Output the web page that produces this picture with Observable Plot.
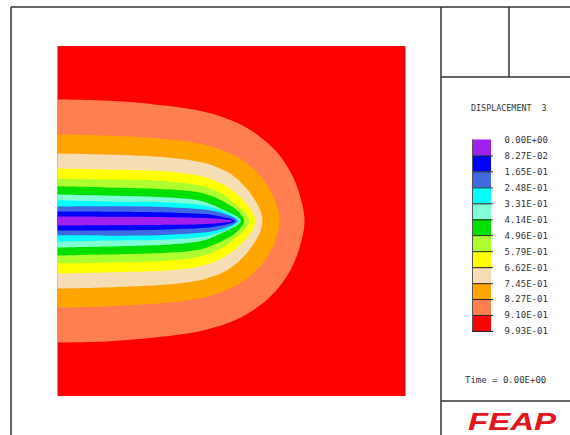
<!DOCTYPE html>
<html><head><meta charset="utf-8">
<script src="https://cdn.jsdelivr.net/npm/d3@7"></script>
<script src="https://cdn.jsdelivr.net/npm/@observablehq/plot@0.6"></script>
<style>
html,body{margin:0;padding:0;background:#fff;}
#wrap{position:relative;width:570px;height:435px;overflow:hidden;background:#fff;}
#wrap svg{position:absolute;left:0;top:0;}
</style></head><body><div id="wrap"></div>
<script>
// ---- data ----
const xDomain = [0, 1];          // mesh extent, horizontal
const yDomain = [-0.5, 0.5];     // mesh extent, vertical

const levelValues = [0.0, 0.0827, 0.165, 0.248, 0.331, 0.414, 0.496, 0.579, 0.662, 0.745, 0.827, 0.910, 0.993];
const levelLabels = ["0.00E+00","8.27E-02","1.65E-01","2.48E-01","3.31E-01","4.14E-01","4.96E-01","5.79E-01","6.62E-01","7.45E-01","8.27E-01","9.10E-01","9.93E-01"];
const bandColors = ["#a020f0","#0000ff","#4169e1","#00ffff","#7fffd4","#00e000","#adff2f","#ffff00","#f5deb3","#ffa500","#ff7f50","#ff0000"];

// upper half of each contour line: [x, distance from mid-line], left edge -> tip
const c0910 = [[0,0.347],[0.136,0.344],[0.280,0.333],[0.418,0.313],[0.516,0.281],[0.582,0.241],[0.628,0.199],[0.662,0.153],[0.685,0.107],[0.700,0.061],[0.707,0.030],[0.710,0]];
const c0827 = [[0,0.247],[0.136,0.244],[0.323,0.233],[0.418,0.219],[0.481,0.199],[0.533,0.173],[0.573,0.139],[0.605,0.099],[0.625,0.059],[0.635,0.027],[0.638,0]];
const c0745 = [[0,0.193],[0.136,0.190],[0.323,0.181],[0.418,0.167],[0.453,0.156],[0.490,0.139],[0.524,0.113],[0.553,0.081],[0.573,0.050],[0.585,0.024],[0.589,0]];
const c0662 = [[0,0.150],[0.136,0.147],[0.323,0.141],[0.418,0.127],[0.476,0.104],[0.513,0.079],[0.542,0.050],[0.559,0.027],[0.569,0]];
const c0579 = [[0,0.121],[0.136,0.119],[0.323,0.113],[0.418,0.099],[0.476,0.076],[0.513,0.047],[0.539,0.024],[0.552,0]];
const c0496 = [[0,0.099],[0.136,0.096],[0.323,0.090],[0.418,0.079],[0.487,0.050],[0.519,0.027],[0.536,0]];
const c0414 = [[0,0.076],[0.136,0.073],[0.323,0.067],[0.418,0.056],[0.487,0.027],[0.517,0.012],[0.527,0]];
const c0331 = [[0,0.059],[0.136,0.056],[0.323,0.053],[0.438,0.041],[0.496,0.019],[0.522,0]];
const c0248 = [[0,0.041],[0.323,0.039],[0.467,0.024],[0.516,0]];
const c0165 = [[0,0.027],[0.323,0.024],[0.453,0.016],[0.510,0]];
const c0083 = [[0,0.013],[0.323,0.011],[0.453,0.007],[0.504,0]];

// contours from outer to inner; each is filled with the band just below its level
const contours = [c0910, c0827, c0745, c0662, c0579, c0496, c0414, c0331, c0248, c0165, c0083];

// mirror the upper half to get the closed outline ordered by y
function outline(c) {
  const lower = c.map(([x, h]) => ({x, y: -h}));
  const upper = c.slice(0, -1).reverse().map(([x, h]) => ({x, y: h}));
  return lower.concat(upper);
}

const wrap = document.getElementById("wrap");

const main = Plot.plot({
  width: 570, height: 435,
  marginLeft: 57.5, marginRight: 164.5, marginTop: 46, marginBottom: 39,
  x: {domain: xDomain, axis: null},
  y: {domain: yDomain, axis: null},
  style: {background: "transparent"},
  marks: [
    Plot.rect([xDomain], {x1: d => d[0], x2: d => d[1], y1: yDomain[0], y2: yDomain[1], fill: bandColors[11]}),
    ...contours.map((c, i) => Plot.areaX(outline(c), {
      x1: 0, x2: "x", y: "y", fill: bandColors[10 - i], curve: "catmull-rom"
    }))
  ]
});
wrap.appendChild(main);

const legend = Plot.plot({
  width: 570, height: 435, margin: 0,
  x: {domain: [0, 1], range: [472, 491], axis: null},
  y: {domain: [levelValues[0], levelValues[12]], range: [139.5, 331], axis: null},
  color: {type: "identity"},
  style: {background: "transparent"},
  marks: [
    Plot.rect(d3.range(12), {x1: 0, x2: 1, y1: i => levelValues[i], y2: i => levelValues[i + 1], fill: i => bandColors[i]}),
    Plot.ruleY(levelValues.slice(1), {x1: 0, x2: 1.1, stroke: "#222", strokeWidth: 1}),
    Plot.ruleX([0], {y1: levelValues[0], y2: levelValues[12], stroke: "#555", strokeWidth: 1}),
    Plot.text(levelValues, {x: 1, y: d => d, text: (d, i) => levelLabels[i], dx: 13, textAnchor: "start",
      fontFamily: "DejaVu Sans Mono", fontSize: 9, fill: "#333"})
  ]
});
wrap.appendChild(legend);

// frame lines and panel texts
const ns = "http://www.w3.org/2000/svg";
const ov = document.createElementNS(ns, "svg");
ov.setAttribute("width", 570); ov.setAttribute("height", 435);
const lines = [[11,7,570,7],[11,7,11,435],[441,7,441,435],[509,7,509,77],[441,77,570,77],[441,401,570,401]];
for (const [x1,y1,x2,y2] of lines) {
  const l = document.createElementNS(ns, "line");
  l.setAttribute("x1", x1); l.setAttribute("y1", y1); l.setAttribute("x2", x2); l.setAttribute("y2", y2);
  l.setAttribute("stroke", "#333"); l.setAttribute("stroke-width", 1.5);
  ov.appendChild(l);
}
function txt(s, x, y, size, opts = {}) {
  const t = document.createElementNS(ns, "text");
  t.setAttribute("x", x); t.setAttribute("y", y);
  t.setAttribute("font-family", opts.family || "DejaVu Sans Mono");
  t.setAttribute("font-size", size);
  t.setAttribute("fill", opts.fill || "#333");
  t.setAttribute("style", "white-space:pre");
  if (opts.weight) t.setAttribute("font-weight", opts.weight);
  if (opts.style) t.setAttribute("font-style", opts.style);
  if (opts.length) { t.setAttribute("textLength", opts.length); t.setAttribute("lengthAdjust", "spacingAndGlyphs"); }
  t.textContent = s;
  ov.appendChild(t);
  return t;
}
txt("DISPLACEMENT  3", 471, 111, 8.4);
txt("Time = 0.00E+00", 465, 383.3, 9);
txt("FEAP", 468, 429.5, 24, {family: "Liberation Sans", weight: "bold", style: "italic", fill: "#e3141c", length: 88});
wrap.appendChild(ov);
</script></body></html>
